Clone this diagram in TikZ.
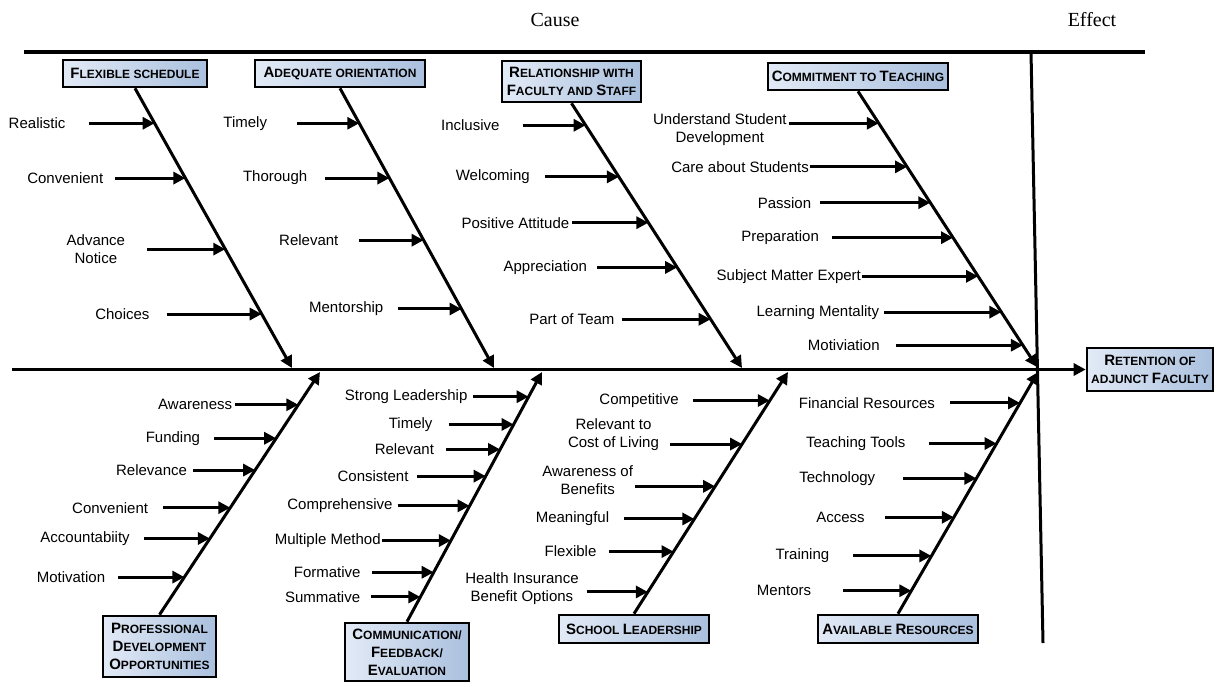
\documentclass[tikz,border=0pt]{standalone}
\usepackage{fontspec}
\setmainfont{Liberation Sans}
\newfontfamily\headserif{Liberation Serif}
\usetikzlibrary{positioning,arrows.meta}
\definecolor{catleft}{RGB}{226,234,246}
\definecolor{catright}{RGB}{170,192,222}
\newcommand{\capfirst}[1]{{\fontsize{15}{18}\selectfont #1}}

\begin{document}
\begin{tikzpicture}[x=1pt,y=-1pt]
 		\tikzstyle{cat}=[rectangle, draw=black, line width=2.6pt, left color=catleft, right color=catright, align=center, inner sep=0pt, font=\fontsize{12}{18}\selectfont\bfseries]
 		\tikzstyle{item}=[inner sep=0pt, inner xsep=4pt, align=center, font=\fontsize{15}{18}\selectfont]
 		\tikzstyle{connect}=[-{Triangle[length=12pt,width=12pt]}, line width=3pt]
 		\tikzstyle{heading}=[font=\headserif\fontsize{20}{24}\selectfont]
 		\useasboundingbox (0,0) rectangle (1221,686);
 		\node[heading] (cause) at (555,20) {Cause};
 		\node[heading] (effect) at (1092,20) {Effect};
 		\coordinate (tl) at (24,52);
 		\coordinate (tr) at (1145,52);
 		\coordinate (vt) at (1031,52);
 		\coordinate (vb) at (1043,643);
 		\coordinate (sl) at (12,369.5);
 		\draw[line width=3.2pt] (tl) -- (tr);
 		\draw[line width=3pt] (vt) -- (vb);
 			\node[cat, minimum width=126pt, minimum height=43pt] (goal) at (1150,369.5) {\capfirst{R}ETENTION OF\\ADJUNCT \capfirst{F}ACULTY};
 			\draw[connect] (sl) -- (goal.west);
 		\node[cat, minimum width=144pt, minimum height=27pt] (fbox) at (135,73.5) {\capfirst{F}LEXIBLE SCHEDULE};
 		\node[cat, minimum width=170pt, minimum height=27pt] (abox) at (340,73.5) {\capfirst{A}DEQUATE ORIENTATION};
 		\node[cat, minimum width=139pt, minimum height=41pt] (rbox) at (571.5,81.5) {\capfirst{R}ELATIONSHIP WITH\\\capfirst{F}ACULTY AND \capfirst{S}TAFF};
 		\node[cat, minimum width=180pt, minimum height=27pt] (cbox) at (858,76.5) {\capfirst{C}OMMITMENT TO \capfirst{T}EACHING};
 		\node[cat, minimum width=113pt, minimum height=61pt] (pbox) at (159.5,646.5) {\capfirst{P}ROFESSIONAL\\\capfirst{D}EVELOPMENT\\\capfirst{O}PPORTUNITIES};
 		\node[cat, minimum width=124pt, minimum height=58pt] (mbox) at (407,652) {\capfirst{C}OMMUNICATION/\\\capfirst{F}EEDBACK/\\\capfirst{E}VALUATION};
 		\node[cat, minimum width=150pt, minimum height=28pt] (sbox) at (634,629) {\capfirst{S}CHOOL \capfirst{L}EADERSHIP};
 		\node[cat, minimum width=160pt, minimum height=28pt] (vbox) at (898,629) {\capfirst{A}VAILABLE \capfirst{R}ESOURCES};
 			\coordinate (fe) at (292,368);
 			\coordinate (ae) at (494,368);
 			\coordinate (re) at (742,368);
 			\coordinate (ce) at (1037,367);
 			\coordinate (pe) at (320,372);
 			\coordinate (me) at (542,372);
 			\coordinate (se) at (788,372);
 			\coordinate (ve) at (1038,372);
 		\path (fbox.south) edge [connect] (fe)
 			(abox.south) edge [connect] (ae)
 			(rbox.south) edge [connect] (re)
 			(cbox.south) edge [connect] (ce)
 			(pbox.north) edge [connect] (pe)
 			(mbox.north) edge [connect] (me)
 			(sbox.north) edge [connect] (se)
 			(vbox.north) edge [connect] (ve);
 		\path (fbox.south) -- (fe) coordinate[pos=.125] (f1) coordinate[pos=.321] (f2) coordinate[pos=.575] (f3) coordinate[pos=.807] (f4);
 		\path (abox.south) -- (ae) coordinate[pos=.125] (a1) coordinate[pos=.321] (a2) coordinate[pos=.543] (a3) coordinate[pos=.789] (a4);
 		\path (rbox.south) -- (re) coordinate[pos=.083] (r1) coordinate[pos=.278] (r2) coordinate[pos=.451] (r3) coordinate[pos=.620] (r4) coordinate[pos=.816] (r5);
 		\path (cbox.south) -- (ce) coordinate[pos=.116] (c1) coordinate[pos=.274] (c2) coordinate[pos=.404] (c3) coordinate[pos=.531] (c4) coordinate[pos=.671] (c5) coordinate[pos=.801] (c6) coordinate[pos=.921] (c7);
 		\path (pbox.north) -- (pe) coordinate[pos=.865] (p1) coordinate[pos=.727] (p2) coordinate[pos=.596] (p3) coordinate[pos=.441] (p4) coordinate[pos=.314] (p5) coordinate[pos=.155] (p6);
 		\path (mbox.north) -- (me) coordinate[pos=.901] (m1) coordinate[pos=.790] (m2) coordinate[pos=.690] (m3) coordinate[pos=.583] (m4) coordinate[pos=.464] (m5) coordinate[pos=.325] (m6) coordinate[pos=.198] (m7) coordinate[pos=.099] (m8);
 		\path (sbox.north) -- (se) coordinate[pos=.882] (s1) coordinate[pos=.702] (s2) coordinate[pos=.527] (s3) coordinate[pos=.392] (s4) coordinate[pos=.257] (s5) coordinate[pos=.090] (s6);
 		\path (vbox.north) -- (ve) coordinate[pos=.872] (v1) coordinate[pos=.704] (v2) coordinate[pos=.560] (v3) coordinate[pos=.399] (v4) coordinate[pos=.239] (v5) coordinate[pos=.095] (v6);
 			\node[item] (realistic) [left=66pt of f1, inner xsep=23pt] {Realistic};
 			\node[item] (convenient) [left=70pt of f2, inner xsep=12pt] {Convenient};
 			\node[item] (advance) [left=78pt of f3, inner xsep=22pt] {Advance\\Notice};
 			\node[item] (choices) [left=95pt of f4, inner xsep=17pt] {Choices};
 			\node[item] (timely) [left=62pt of a1, inner xsep=30pt] {Timely};
 			\node[item] (thorough) [left=64pt of a2, inner xsep=18pt] {Thorough};
 			\node[item] (relevant) [left=65pt of a3, inner xsep=20pt] {Relevant};
 			\node[item] (mentorship) [left=64pt of a4, inner xsep=14pt] {Mentorship};
 			\node[item] (inclusive) [left=63pt of r1, inner xsep=23pt] {Inclusive};
 			\node[item] (welcoming) [left=74pt of r2, inner xsep=15pt] {Welcoming};
 			\node[item] (positive) [left=76pt of r3, inner xsep=3pt] {Positive Attitude};
 			\node[item] (appreciation) [left=80pt of r4, inner xsep=10pt] {Appreciation};
 			\node[item] (team) [left=89pt of r5, inner xsep=7pt] {Part of Team};
 			\node[item] (understand) [left=90pt of c1, inner xsep=2pt, yshift=-6pt] {Understand Student\\Development};
 			\node[item] (care) [left=97pt of c2, inner xsep=1pt] {Care about Students};
 			\node[item] (passion) [left=110pt of c3, inner xsep=9pt] {Passion};
 			\node[item] (preparation) [left=121pt of c4, inner xsep=13pt] {Preparation};
 			\node[item] (expert) [left=116pt of c5, inner xsep=1pt] {Subject Matter Expert};
 			\node[item] (mentality) [left=117pt of c6, inner xsep=5pt] {Learning Mentality};
 			\node[item] (motiviation) [left=127pt of c7, inner xsep=16pt] {Motiviation};
 				\node[item] (awareness) [left=63pt of p1, inner xsep=3pt] {Awareness};
 				\node[item] (funding) [left=62pt of p2, inner xsep=14pt] {Funding};
 				\node[item] (relevance) [left=62pt of p3, inner xsep=6pt] {Relevance};
 				\node[item] (pconvenient) [left=67pt of p4, inner xsep=15pt] {Convenient};
 				\node[item] (accountability) [left=66pt of p5, inner xsep=14pt] {Accountabiity};
 				\node[item] (motivation) [left=66pt of p6, inner xsep=13pt] {Motivation};
 				\node[item] (strong) [left=56pt of m1, inner xsep=5pt] {Strong Leadership};
 				\node[item] (mtimely) [left=65pt of m2, inner xsep=16pt] {Timely};
 				\node[item] (mrelevant) [left=54pt of m3, inner xsep=12pt] {Relevant};
 				\node[item] (consistent) [left=69pt of m4, inner xsep=8pt] {Consistent};
 				\node[item] (comprehensive) [left=72pt of m5, inner xsep=5pt] {Comprehensive};
 				\node[item] (multiple) [left=69pt of m6, inner xsep=1pt] {Multiple Method};
 				\node[item] (formative) [left=62pt of m7, inner xsep=11pt] {Formative};
 				\node[item] (summative) [left=49pt of m8, inner xsep=11pt] {Summative};
 				\node[item] (competitive) [left=77pt of s1, inner xsep=14pt] {Competitive};
 				\node[item] (living) [left=72pt of s2, inner xsep=11pt, yshift=9pt] {Relevant to\\Cost of Living};
 				\node[item] (benefits) [left=80pt of s3, inner xsep=2pt, yshift=6.5pt] {Awareness of\\Benefits};
 				\node[item] (meaningful) [left=70pt of s4, inner xsep=15pt] {Meaningful};
 				\node[item] (flexible) [left=65pt of s5, inner xsep=12pt] {Flexible};
 				\node[item] (insurance) [left=61pt of s6, inner xsep=8pt, yshift=3pt] {Health Insurance\\Benefit Options};
 				\node[item] (financial) [left=70pt of v1, inner xsep=15pt] {Financial Resources};
 				\node[item] (tools) [left=68pt of v2, inner xsep=23pt] {Teaching Tools};
 				\node[item] (technology) [left=73pt of v3, inner xsep=28pt] {Technology};
 				\node[item] (access) [left=69pt of v4, inner xsep=20pt] {Access};
 				\node[item] (training) [left=78pt of v5, inner xsep=24pt] {Training};
 				\node[item] (mentors) [left=68pt of v6, inner xsep=32pt] {Mentors};
 		\path (realistic) edge [connect] (f1)
 			(convenient) edge [connect] (f2)
 			(advance) edge [connect] (f3)
 			(choices) edge [connect] (f4)
 			(timely) edge [connect] (a1)
 			(thorough) edge [connect] (a2)
 			(relevant) edge [connect] (a3)
 			(mentorship) edge [connect] (a4)
 			(inclusive) edge [connect] (r1)
 			(welcoming) edge [connect] (r2)
 			(positive) edge [connect] (r3)
 			(appreciation) edge [connect] (r4)
 			(team) edge [connect] (r5)
 			(understand.east |- c1) edge [connect] (c1)
 			(care) edge [connect] (c2)
 			(passion) edge [connect] (c3)
 			(preparation) edge [connect] (c4)
 			(expert) edge [connect] (c5)
 			(mentality) edge [connect] (c6)
 			(motiviation) edge [connect] (c7);
 		\path (awareness) edge [connect] (p1)
 			(funding) edge [connect] (p2)
 			(relevance) edge [connect] (p3)
 			(pconvenient) edge [connect] (p4)
 			(accountability) edge [connect] (p5)
 			(motivation) edge [connect] (p6)
 			(strong) edge [connect] (m1)
 			(mtimely) edge [connect] (m2)
 			(mrelevant) edge [connect] (m3)
 			(consistent) edge [connect] (m4)
 			(comprehensive) edge [connect] (m5)
 			(multiple) edge [connect] (m6)
 			(formative) edge [connect] (m7)
 			(summative) edge [connect] (m8)
 			(competitive) edge [connect] (s1)
 			(living.east |- s2) edge [connect] (s2)
 			(benefits.east |- s3) edge [connect] (s3)
 			(meaningful) edge [connect] (s4)
 			(flexible) edge [connect] (s5)
 			(insurance.east |- s6) edge [connect] (s6)
 			(financial) edge [connect] (v1)
 			(tools) edge [connect] (v2)
 			(technology) edge [connect] (v3)
 			(access) edge [connect] (v4)
 			(training) edge [connect] (v5)
 			(mentors) edge [connect] (v6);
\end{tikzpicture}
\end{document}
